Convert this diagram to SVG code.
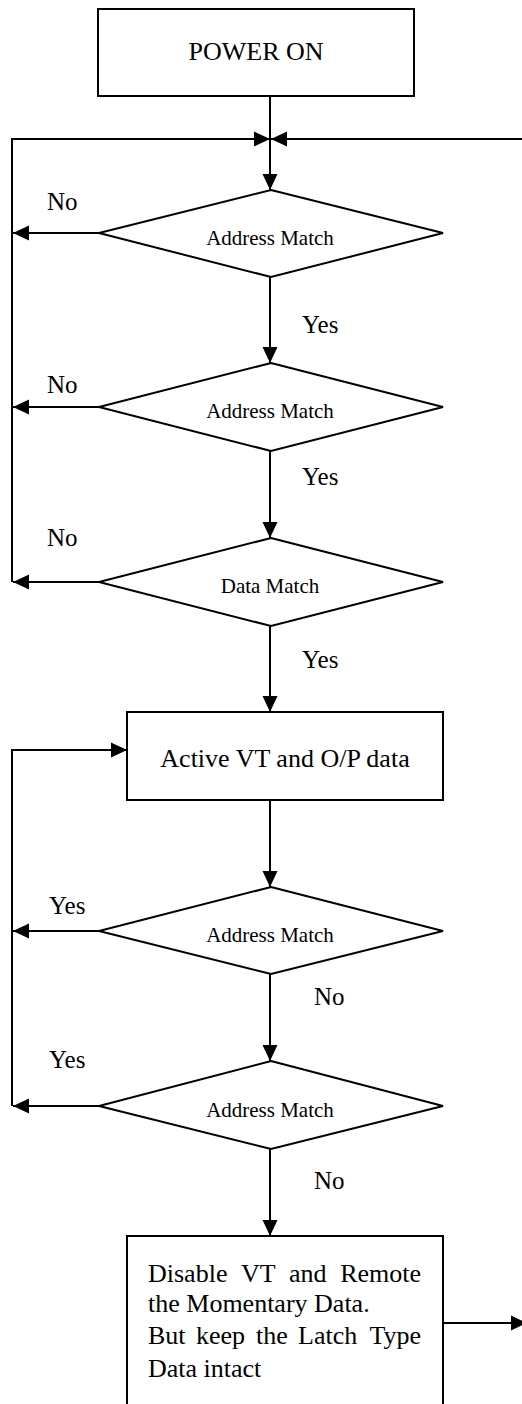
<svg xmlns="http://www.w3.org/2000/svg" width="522" height="1404" viewBox="0 0 522 1404">
<style>
  .shape { fill: #ffffff; stroke: #000000; stroke-width: 2; }
  .conn { fill: none; stroke: #000000; stroke-width: 2; }
  .big { font-family: "Liberation Serif", "Times New Roman", serif; font-size: 26px; fill: #000000; }
  .small { font-family: "Liberation Serif", "Times New Roman", serif; font-size: 21px; fill: #000000; text-anchor: middle; }
  .lbl { font-family: "Liberation Serif", "Times New Roman", serif; font-size: 25px; fill: #000000; }
</style>
<defs>
  <marker id="arr" markerUnits="userSpaceOnUse" markerWidth="16" markerHeight="16" viewBox="0 0 16 16" refX="16" refY="8" orient="auto">
    <path d="M0,0.5 L16,8 L0,15.5 Z" fill="#000000"/>
  </marker>
</defs>
<rect x="0" y="0" width="522" height="1404" fill="#ffffff"/>

<g id="connectors">
  <line class="conn" x1="270" y1="96" x2="270" y2="190" marker-end="url(#arr)"/>
  <polyline class="conn" points="12,582 12,139 270,139" marker-end="url(#arr)"/>
  <line class="conn" x1="522" y1="139" x2="271" y2="139" marker-end="url(#arr)"/>
  <line class="conn" x1="99" y1="233" x2="13" y2="233" marker-end="url(#arr)"/>
  <line class="conn" x1="99" y1="407" x2="13" y2="407" marker-end="url(#arr)"/>
  <line class="conn" x1="99" y1="582" x2="13" y2="582" marker-end="url(#arr)"/>
  <line class="conn" x1="270" y1="277" x2="270" y2="363" marker-end="url(#arr)"/>
  <line class="conn" x1="270" y1="451" x2="270" y2="538" marker-end="url(#arr)"/>
  <line class="conn" x1="270" y1="626" x2="270" y2="712" marker-end="url(#arr)"/>
  <line class="conn" x1="270" y1="800" x2="270" y2="887" marker-end="url(#arr)"/>
  <line class="conn" x1="270" y1="974" x2="270" y2="1061" marker-end="url(#arr)"/>
  <line class="conn" x1="270" y1="1149" x2="270" y2="1236" marker-end="url(#arr)"/>
  <polyline class="conn" points="12,1106 12,750 127,750" marker-end="url(#arr)"/>
  <line class="conn" x1="99" y1="931" x2="13" y2="931" marker-end="url(#arr)"/>
  <line class="conn" x1="99" y1="1106" x2="13" y2="1106" marker-end="url(#arr)"/>
  <line class="conn" x1="443" y1="1323" x2="527" y2="1323" marker-end="url(#arr)"/>
  <text class="lbl" x="47" y="210">No</text>
  <text class="lbl" x="302" y="333">Yes</text>
  <text class="lbl" x="47" y="393">No</text>
  <text class="lbl" x="302" y="485">Yes</text>
  <text class="lbl" x="47" y="546">No</text>
  <text class="lbl" x="302" y="668">Yes</text>
  <text class="lbl" x="49" y="914">Yes</text>
  <text class="lbl" x="314" y="1005">No</text>
  <text class="lbl" x="49" y="1068">Yes</text>
  <text class="lbl" x="314" y="1189">No</text>
</g>

<g id="power-on">
  <rect class="shape" x="98" y="9" width="316" height="87"/>
  <text class="big" x="256" y="60" text-anchor="middle">POWER ON</text>
</g>
<g id="address-match-1">
  <polygon class="shape" points="271,190 443,233 271,277 99,233"/>
  <text class="small" x="270" y="245">Address Match</text>
</g>
<g id="address-match-2">
  <polygon class="shape" points="271,363 443,407 271,451 99,407"/>
  <text class="small" x="270" y="418">Address Match</text>
</g>
<g id="data-match">
  <polygon class="shape" points="271,538 443,582 271,626 99,582"/>
  <text class="small" x="270" y="593">Data Match</text>
</g>
<g id="active-vt">
  <rect class="shape" x="127" y="712" width="316" height="88"/>
  <text class="big" x="285" y="767" text-anchor="middle">Active VT and O/P data</text>
</g>
<g id="address-match-3">
  <polygon class="shape" points="271,887 443,931 271,974 99,931"/>
  <text class="small" x="270" y="942">Address Match</text>
</g>
<g id="address-match-4">
  <polygon class="shape" points="271,1061 443,1106 271,1149 99,1106"/>
  <text class="small" x="270" y="1117">Address Match</text>
</g>
<g id="disable-vt">
  <rect class="shape" x="127" y="1236" width="316" height="200"/>
  <text class="big" y="1282"><tspan x="148">Disable</tspan><tspan x="241">VT</tspan><tspan x="289">and</tspan></text>
  <text class="big" x="421" y="1282" text-anchor="end">Remote</text>
  <text class="big" x="148" y="1312">the Momentary Data.</text>
  <text class="big" y="1344"><tspan x="148">But</tspan><tspan x="196">keep</tspan><tspan x="256">the</tspan><tspan x="298">Latch</tspan></text>
  <text class="big" x="421" y="1344" text-anchor="end">Type</text>
  <text class="big" x="148" y="1377">Data intact</text>
</g>
</svg>
